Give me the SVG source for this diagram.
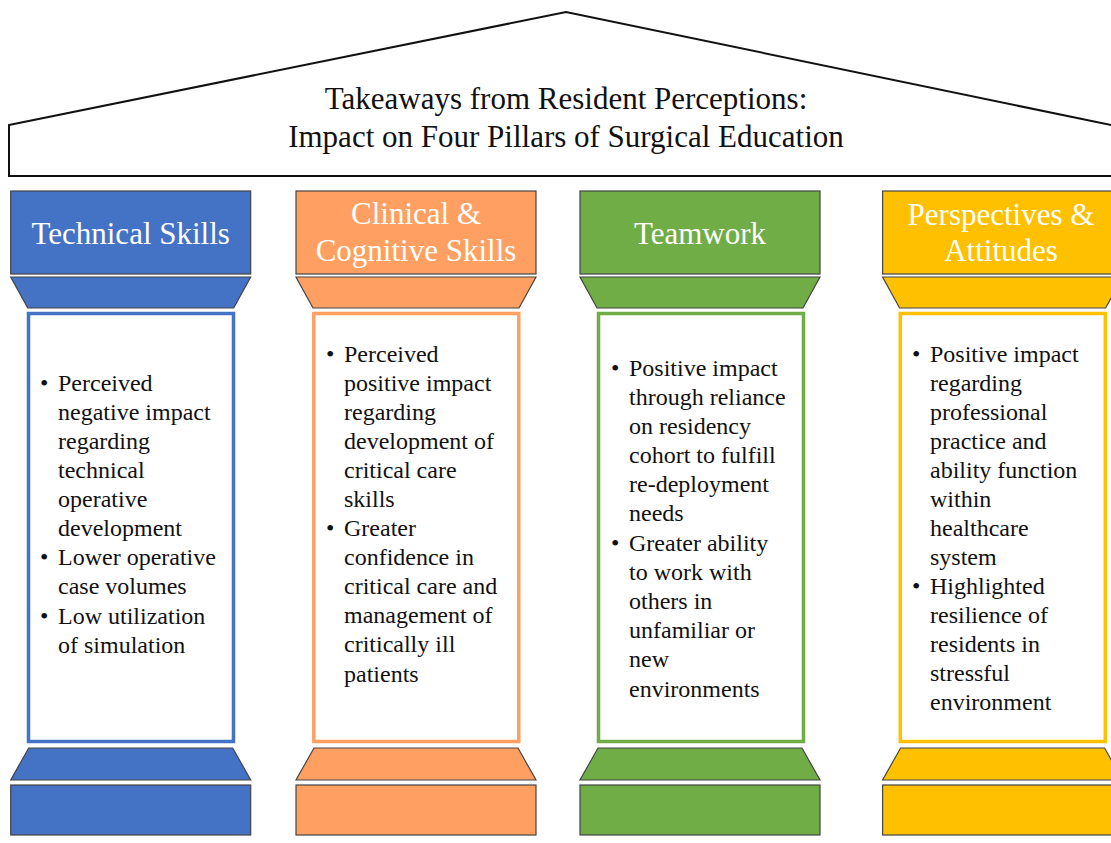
<svg xmlns="http://www.w3.org/2000/svg" width="1111" height="843" viewBox="0 0 1111 843">
<style>
.title{font-family:"Liberation Serif","Times New Roman",serif;font-size:31px;fill:#111;text-anchor:middle}
.head{font-family:"Liberation Serif","Times New Roman",serif;font-size:31px;fill:#fff;text-anchor:middle}
.body{font-family:"Liberation Serif","Times New Roman",serif;font-size:24px;fill:#111}
.solid{stroke:#444;stroke-width:1.2}
.shaft{fill:#fff;stroke-width:3.5}
.blue{fill:#4472C4}.orange{fill:#FFA062}.green{fill:#70AD47}.yellow{fill:#FFC000}
</style>
<rect width="1111" height="843" fill="#fff"/>
<g id="roof">
<path d="M9,125 L566,12 L1125,128 L1125,176 L9,176 Z" fill="#fff" stroke="#111" stroke-width="2"/>
<text class="title" x="566" y="109">Takeaways from Resident Perceptions:</text>
<text class="title" x="566" y="147">Impact on Four Pillars of Surgical Education</text>
</g>
<g id="pillar-technical">
<rect class="solid blue" x="10.7" y="191" width="240" height="83"/>
<polygon class="solid blue" points="10.7,277 250.7,277 233.7,308 27.7,308"/>
<rect class="shaft" stroke="#4472C4" x="28.5" y="313.5" width="205" height="428"/>
<polygon class="solid blue" points="28.7,748 232.7,748 250.7,780 10.7,780"/>
<rect class="solid blue" x="10.7" y="785" width="240" height="50"/>
<text class="head" x="130.7" y="244">Technical Skills</text>
<g class="body">
<text x="40" y="391">•</text><text x="58" y="391">Perceived</text>
<text x="58" y="420">negative impact</text>
<text x="58" y="449">regarding</text>
<text x="58" y="478">technical</text>
<text x="58" y="507">operative</text>
<text x="58" y="536">development</text>
<text x="40" y="565">•</text><text x="58" y="565">Lower operative</text>
<text x="58" y="594">case volumes</text>
<text x="40" y="624">•</text><text x="58" y="624">Low utilization</text>
<text x="58" y="653">of simulation</text>
</g>
</g>
<g id="pillar-clinical">
<rect class="solid orange" x="296" y="191" width="240" height="83"/>
<polygon class="solid orange" points="296,277 536,277 519,308 313,308"/>
<rect class="shaft" stroke="#FFA062" x="313.8" y="313.5" width="205" height="428"/>
<polygon class="solid orange" points="314,748 518,748 536,780 296,780"/>
<rect class="solid orange" x="296" y="785" width="240" height="50"/>
<text class="head" x="416" y="224">Clinical &amp;</text>
<text class="head" x="416" y="261">Cognitive Skills</text>
<g class="body">
<text x="326" y="362">•</text><text x="344" y="362">Perceived</text>
<text x="344" y="391">positive impact</text>
<text x="344" y="420">regarding</text>
<text x="344" y="449">development of</text>
<text x="344" y="478">critical care</text>
<text x="344" y="507">skills</text>
<text x="326" y="536">•</text><text x="344" y="536">Greater</text>
<text x="344" y="565">confidence in</text>
<text x="344" y="594">critical care and</text>
<text x="344" y="623">management of</text>
<text x="344" y="652">critically ill</text>
<text x="344" y="682">patients</text>
</g>
</g>
<g id="pillar-teamwork">
<rect class="solid green" x="580" y="191" width="240" height="83"/>
<polygon class="solid green" points="580,277 820,277 803,308 597,308"/>
<rect class="shaft" stroke="#70AD47" x="598.5" y="313.5" width="205" height="428"/>
<polygon class="solid green" points="598,748 802,748 820,780 580,780"/>
<rect class="solid green" x="580" y="785" width="240" height="50"/>
<text class="head" x="700" y="244">Teamwork</text>
<g class="body">
<text x="611" y="376">•</text><text x="629" y="376">Positive impact</text>
<text x="629" y="405">through reliance</text>
<text x="629" y="434">on residency</text>
<text x="629" y="463">cohort to fulfill</text>
<text x="629" y="492">re-deployment</text>
<text x="629" y="521">needs</text>
<text x="611" y="551">•</text><text x="629" y="551">Greater ability</text>
<text x="629" y="580">to work with</text>
<text x="629" y="609">others in</text>
<text x="629" y="638">unfamiliar or</text>
<text x="629" y="667">new</text>
<text x="629" y="697">environments</text>
</g>
</g>
<g id="pillar-perspectives">
<rect class="solid yellow" x="882.6" y="191" width="240" height="83"/>
<polygon class="solid yellow" points="882.6,277 1122.6,277 1105.6,308 899.6,308"/>
<rect class="shaft" stroke="#FFC000" x="900.3" y="313.5" width="205" height="428"/>
<polygon class="solid yellow" points="900.6,748 1104.6,748 1122.6,780 882.6,780"/>
<rect class="solid yellow" x="882.6" y="785" width="240" height="50"/>
<text class="head" x="1001" y="225">Perspectives &amp;</text>
<text class="head" x="1001" y="261">Attitudes</text>
<g class="body">
<text x="912" y="362">•</text><text x="930" y="362">Positive impact</text>
<text x="930" y="391">regarding</text>
<text x="930" y="420">professional</text>
<text x="930" y="449">practice and</text>
<text x="930" y="478">ability function</text>
<text x="930" y="507">within</text>
<text x="930" y="536">healthcare</text>
<text x="930" y="565">system</text>
<text x="912" y="594">•</text><text x="930" y="594">Highlighted</text>
<text x="930" y="623">resilience of</text>
<text x="930" y="652">residents in</text>
<text x="930" y="681">stressful</text>
<text x="930" y="710">environment</text>
</g>
</g>
</svg>
